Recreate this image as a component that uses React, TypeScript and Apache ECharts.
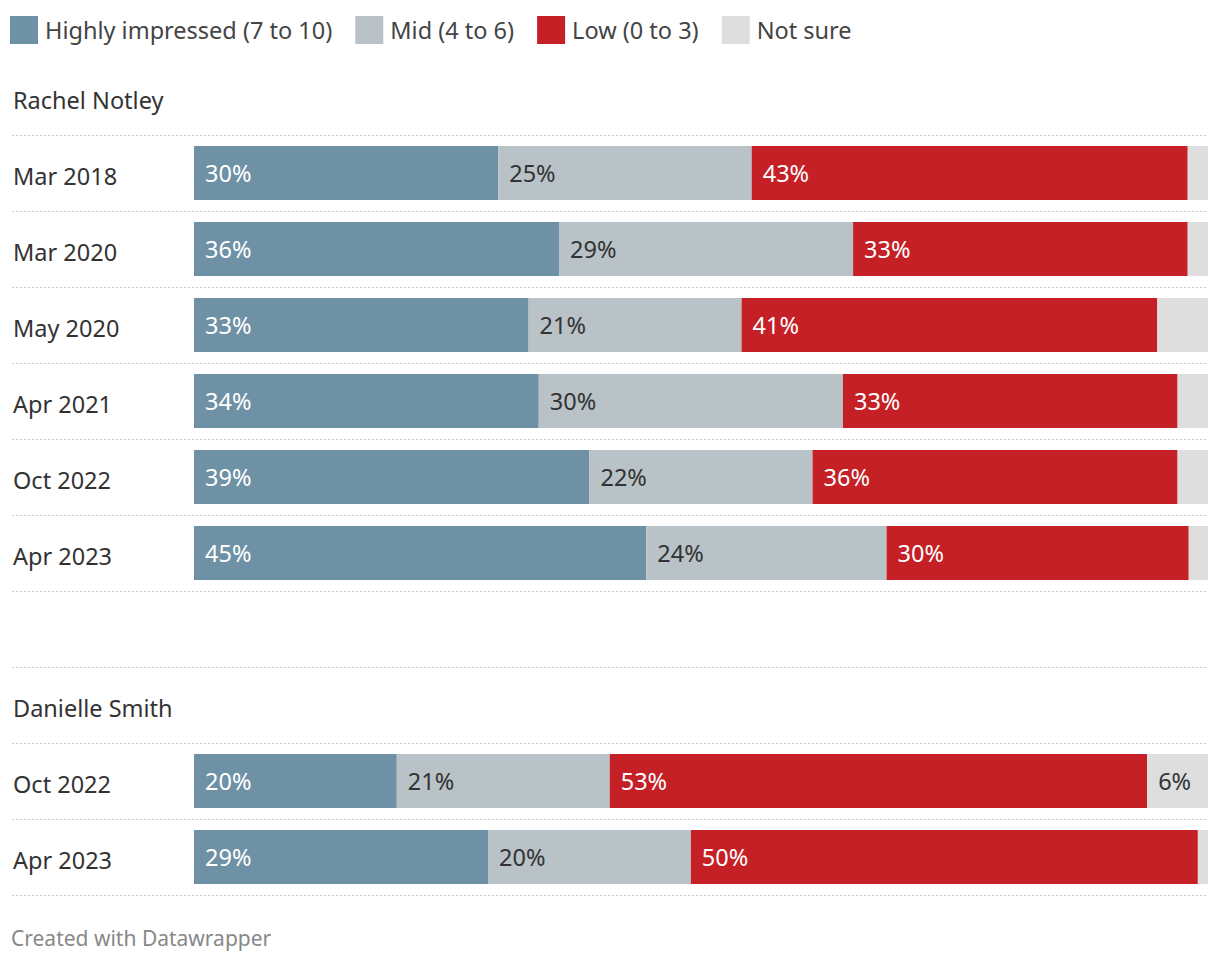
import React, { useEffect, useRef } from "react";
import * as echarts from "echarts";

const seriesNames = ["Highly impressed (7 to 10)", "Mid (4 to 6)", "Low (0 to 3)", "Not sure"];
const colors = ["#6f91a6", "#b8c2c7", "#c42026", "#dedede"];
const labelColors = ["#ffffff", "#333333", "#ffffff", "#333333"];

const notleyHeader = "Rachel Notley";
const notleyDates = ["Mar 2018", "Mar 2020", "May 2020", "Apr 2021", "Oct 2022", "Apr 2023"];
const notleyHigh = [30, 36, 33, 34, 39, 44.6];
const notleyMid = [25, 29, 21, 30, 22, 23.7];
const notleyLow = [43, 33, 41, 33, 36, 29.8];
const notleyNotSure = [2, 2, 5, 3, 3, 1.9];

const smithHeader = "Danielle Smith";
const smithDates = ["Oct 2022", "Apr 2023"];
const smithHigh = [20, 29];
const smithMid = [21, 20];
const smithLow = [53, 50];
const smithNotSure = [6, 1];

const FONT = "'Noto Sans', sans-serif";
const LABEL_COL = 182; // px reserved for row labels
const PLOT_W = 1014; // px width of the bars' area

export default function App() {
  const ref = useRef<HTMLDivElement>(null);
  useEffect(() => {
    document.body.style.margin = "0";
    const chart = echarts.init(ref.current!, null, { renderer: "svg" });

    const groups = [
      { header: notleyHeader, dates: notleyDates, vals: [notleyHigh, notleyMid, notleyLow, notleyNotSure] },
      { header: smithHeader, dates: smithDates, vals: [smithHigh, smithMid, smithLow, smithNotSure] },
    ];

    const series: any[] = [];
    groups.forEach((g, gi) => {
      g.vals.forEach((arr, si) => {
        series.push({
          type: "bar",
          name: seriesNames[si],
          stack: "g" + gi,
          xAxisIndex: gi,
          yAxisIndex: gi,
          barWidth: 54,
          data: ["-", ...arr],
          itemStyle: { color: colors[si] },
          label: {
            show: true,
            position: "insideLeft",
            distance: 11,
            color: labelColors[si],
            fontSize: 23.5,
            fontFamily: FONT,
            formatter: (p: any) => {
              const v = Number(p.value);
              if (!isFinite(v) || v < 5.5) return "";
              return Math.round(v) + "%";
            },
          },
        });
      });
    });

    const xMin = (-100 * LABEL_COL) / PLOT_W;

    const yAxisBase = (cats: string[]) => ({
      type: "category",
      inverse: true,
      data: cats,
      axisLine: { show: false },
      axisTick: { show: false },
      axisLabel: {
        align: "left",
        margin: -1,
        formatter: (v: string) => `{a|${v}}`,
        rich: {
          a: {
            fontSize: 23.5,
            color: "#333333",
            fontFamily: FONT,
            padding: [6, 0, 0, 0],
          },
        },
      },
    });

    const splitStyle = { color: "#c8c8c8", type: [2, 2], width: 1 };

    chart.setOption({
      animation: false,
      textStyle: { fontFamily: FONT },
      legend: {
        data: seriesNames,
        left: 5,
        top: 11,
        itemWidth: 28,
        itemHeight: 28,
        itemGap: 23,
        icon: "rect",
        selectedMode: false,
        textStyle: { fontSize: 23.5, color: "#444444", fontFamily: FONT, padding: [0, 0, 0, 2] },
      },
      title: {
        text: "Created with Datawrapper",
        left: 6,
        top: 922,
        textStyle: { fontSize: 21, fontWeight: "normal", color: "#888888", fontFamily: FONT },
      },
      grid: [
        { left: 12, right: 12, top: 59, height: 532 },
        { left: 12, right: 12, top: 667, height: 228 },
      ],
      xAxis: [
        { type: "value", gridIndex: 0, min: xMin, max: 100, show: false },
        { type: "value", gridIndex: 1, min: xMin, max: 100, show: false },
      ],
      yAxis: [
        {
          ...yAxisBase([notleyHeader, ...notleyDates]),
          gridIndex: 0,
          splitLine: { show: true, showMinLine: false, lineStyle: splitStyle },
        },
        {
          ...yAxisBase([smithHeader, ...smithDates]),
          gridIndex: 1,
          splitLine: { show: true, lineStyle: splitStyle },
        },
      ],
      series,
    });
    return () => chart.dispose();
  }, []);
  return <div ref={ref} style={{ width: 1220, height: 962 }} />;
}
